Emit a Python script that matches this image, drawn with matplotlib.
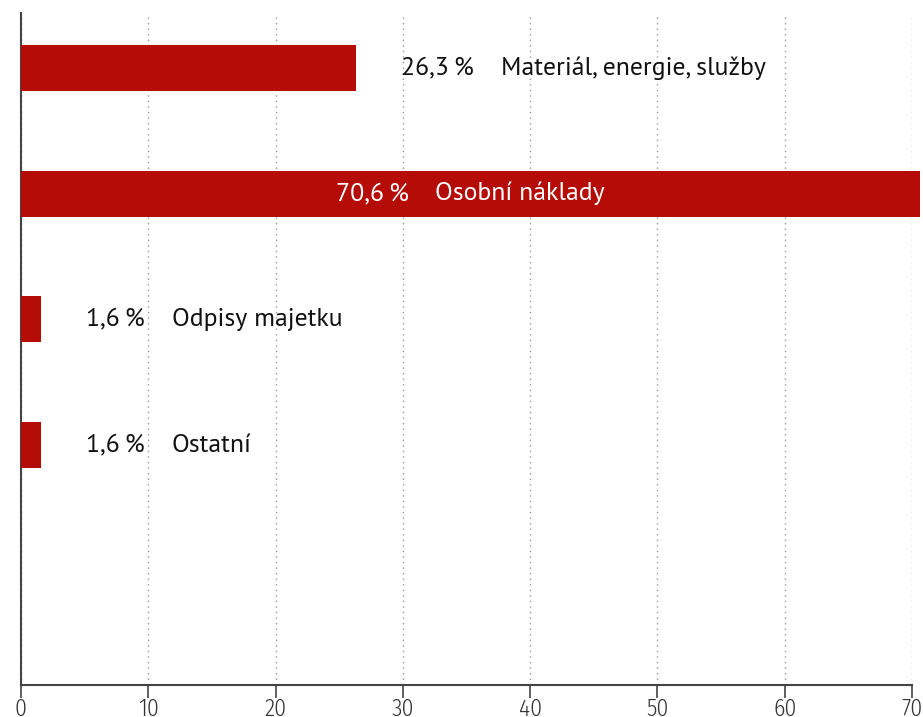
import matplotlib
matplotlib.use("Agg")
import matplotlib.pyplot as plt
from matplotlib.offsetbox import TextArea, HPacker, AnnotationBbox

categories = ["Materiál, energie, služby", "Osobní náklady", "Odpisy majetku", "Ostatní"]
values = [26.3, 70.6, 1.6, 1.6]
pct_labels = ["26,3\u2009%", "70,6\u2009%", "1,6\u2009%", "1,6\u2009%"]
xticks = [0, 10, 20, 30, 40, 50, 60, 70]

BAR = "#B50C07"
W, H = 923, 717
fig = plt.figure(figsize=(W / 100, H / 100), dpi=100)
ax = fig.add_axes([21 / W, (717 - 685) / H, (912 - 21) / W, (685 - 13) / H])

ypos = list(range(len(values)))
ax.barh(ypos, values, height=0.366, color=BAR, zorder=3, clip_on=False)

ax.set_xlim(0, 70)
ax.set_ylim(4.909, -0.4375)
ax.set_yticks([])
ax.set_xticks(xticks)
ax.set_xticklabels([str(t) for t in xticks],
                   family=["Fira Sans Condensed", "DejaVu Sans"], fontweight=300,
                   fontsize=17, color="#333333")
ax.tick_params(axis="x", length=9, width=1.2, color="#444444", pad=0)
for s in ["top", "right"]:
    ax.spines[s].set_visible(False)
for s in ["left", "bottom"]:
    ax.spines[s].set_color("#444444")
    ax.spines[s].set_linewidth(1.5)
ax.xaxis.grid(True, linestyle=(0, (1, 3)), color="#999999", linewidth=1.0, zorder=0)
ax.set_axisbelow(True)

font = ["PT Sans", "DejaVu Sans"]
fs = 18.5
px = 72 / 100
for i, (v, p, c) in enumerate(zip(values, pct_labels, categories)):
    inside = v > 50
    col = "white" if inside else "#111111"
    tp = dict(fontsize=fs, color=col, family=font, fontweight="normal")
    box = HPacker(children=[TextArea(p, textprops=tp), TextArea(c, textprops=tp)],
                  align="baseline", pad=0, sep=27 * px)
    if inside:
        ab = AnnotationBbox(box, (v / 2, i), xycoords="data", box_alignment=(0.5, 0.5),
                            frameon=False, pad=0, zorder=5, annotation_clip=False)
    else:
        ab = AnnotationBbox(box, (v, i), xycoords="data", xybox=(45 * px, 0),
                            boxcoords="offset points", box_alignment=(0, 0.5),
                            frameon=False, pad=0, zorder=5, annotation_clip=False)
    ax.add_artist(ab)

fig.savefig("out.png", dpi=100)
